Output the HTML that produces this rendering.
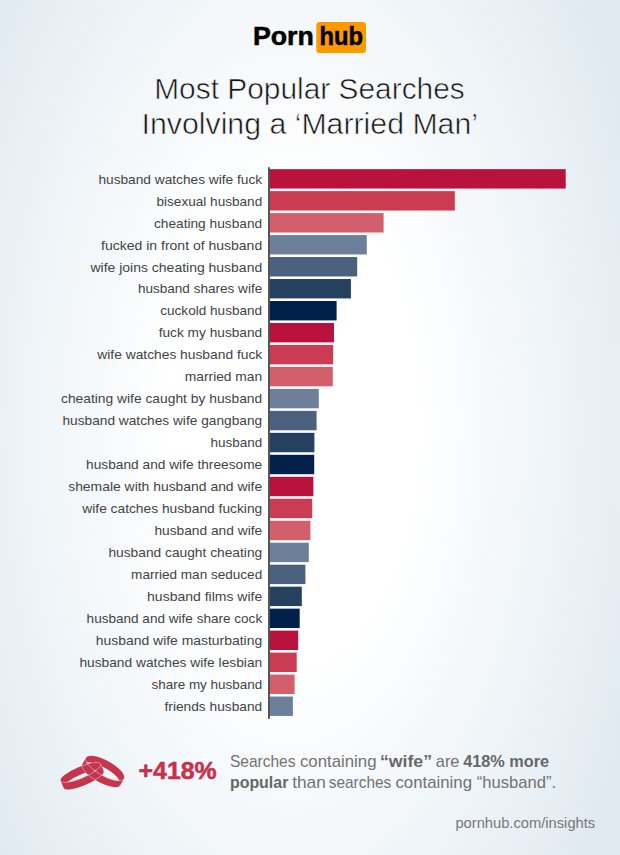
<!DOCTYPE html>
<html lang="en">
<head>
<meta charset="utf-8">
<title>Most Popular Searches</title>
<style>
html,body{margin:0;padding:0;}
body{width:620px;height:855px;overflow:hidden;font-family:"Liberation Sans",sans-serif;
background:radial-gradient(ellipse 315px 600px at 292px 425px, #ffffff 0%, #ffffff 39%, #e8f0f5 100%, #e1eaf1 116%);}
svg{display:block;position:absolute;left:0;top:0;}
text{font-family:"Liberation Sans",sans-serif;}
.lbl{font-size:13.5px;fill:#434343;}
.ttl{font-size:29.6px;fill:#141414;stroke:#f6f8fa;stroke-width:0.6px;}
.note{font-size:17px;fill:#727272;}
.note.b{fill:#686868;}
.b{font-weight:bold;}
</style>
</head>
<body>
<svg width="620" height="855" viewBox="0 0 620 855">
<g id="logo">
<text x="252.9" y="45.2" font-size="25" font-weight="bold" fill="#000000" stroke="#000000" stroke-width="0.5" textLength="60.9" lengthAdjust="spacingAndGlyphs">Porn</text>
<rect x="316.3" y="21.9" width="49.7" height="31.1" rx="3.2" ry="3.2" fill="#ff9900"/>
<text x="319.5" y="45.2" font-size="25" font-weight="bold" fill="#000000" stroke="#000000" stroke-width="0.5" textLength="43.4" lengthAdjust="spacingAndGlyphs">hub</text>
</g>
<g id="title">
<text class="ttl" x="154.2" y="99.0" textLength="310.6" lengthAdjust="spacingAndGlyphs">Most Popular Searches</text>
<text class="ttl" x="141.6" y="133.9" textLength="336.4" lengthAdjust="spacingAndGlyphs">Involving a ‘Married Man’</text>
</g>
<g id="chart">
<rect x="270.0" y="169.15" width="295.7" height="19.4" fill="#b8123d"/>
<text class="lbl" x="98.4" y="184" textLength="163.8" lengthAdjust="spacingAndGlyphs">husband watches wife fuck</text>
<rect x="270.0" y="191.12" width="184.8" height="19.4" fill="#cb3b52"/>
<text class="lbl" x="156.5" y="206" textLength="105.7" lengthAdjust="spacingAndGlyphs">bisexual husband</text>
<rect x="270.0" y="213.10" width="113.6" height="19.4" fill="#d35f6d"/>
<text class="lbl" x="153.9" y="228" textLength="108.3" lengthAdjust="spacingAndGlyphs">cheating husband</text>
<rect x="270.0" y="235.08" width="96.8" height="19.4" fill="#6e8099"/>
<text class="lbl" x="101.1" y="250" textLength="161.1" lengthAdjust="spacingAndGlyphs">fucked in front of husband</text>
<rect x="270.0" y="257.05" width="87.2" height="19.4" fill="#4c617d"/>
<text class="lbl" x="90.5" y="272" textLength="171.7" lengthAdjust="spacingAndGlyphs">wife joins cheating husband</text>
<rect x="270.0" y="279.02" width="80.9" height="19.4" fill="#25415f"/>
<text class="lbl" x="137.9" y="293" textLength="124.3" lengthAdjust="spacingAndGlyphs">husband shares wife</text>
<rect x="270.0" y="301.00" width="66.6" height="19.4" fill="#01204a"/>
<text class="lbl" x="160.2" y="315" textLength="102.0" lengthAdjust="spacingAndGlyphs">cuckold husband</text>
<rect x="270.0" y="322.98" width="64.0" height="19.4" fill="#b8123d"/>
<text class="lbl" x="158.7" y="337" textLength="103.5" lengthAdjust="spacingAndGlyphs">fuck my husband</text>
<rect x="270.0" y="344.95" width="63.2" height="19.4" fill="#cb3b52"/>
<text class="lbl" x="97.3" y="359" textLength="164.9" lengthAdjust="spacingAndGlyphs">wife watches husband fuck</text>
<rect x="270.0" y="366.92" width="62.8" height="19.4" fill="#d35f6d"/>
<text class="lbl" x="184.8" y="381" textLength="77.4" lengthAdjust="spacingAndGlyphs">married man</text>
<rect x="270.0" y="388.90" width="48.8" height="19.4" fill="#6e8099"/>
<text class="lbl" x="61.0" y="403" textLength="201.2" lengthAdjust="spacingAndGlyphs">cheating wife caught by husband</text>
<rect x="270.0" y="410.88" width="46.6" height="19.4" fill="#4c617d"/>
<text class="lbl" x="62.4" y="425" textLength="199.8" lengthAdjust="spacingAndGlyphs">husband watches wife gangbang</text>
<rect x="270.0" y="432.85" width="44.4" height="19.4" fill="#25415f"/>
<text class="lbl" x="210.5" y="447" textLength="51.7" lengthAdjust="spacingAndGlyphs">husband</text>
<rect x="270.0" y="454.82" width="44.2" height="19.4" fill="#01204a"/>
<text class="lbl" x="86.1" y="469" textLength="176.1" lengthAdjust="spacingAndGlyphs">husband and wife threesome</text>
<rect x="270.0" y="476.80" width="43.4" height="19.4" fill="#b8123d"/>
<text class="lbl" x="68.2" y="491" textLength="194.0" lengthAdjust="spacingAndGlyphs">shemale with husband and wife</text>
<rect x="270.0" y="498.77" width="42.2" height="19.4" fill="#cb3b52"/>
<text class="lbl" x="82.3" y="513" textLength="179.9" lengthAdjust="spacingAndGlyphs">wife catches husband fucking</text>
<rect x="270.0" y="520.75" width="40.4" height="19.4" fill="#d35f6d"/>
<text class="lbl" x="154.4" y="535" textLength="107.8" lengthAdjust="spacingAndGlyphs">husband and wife</text>
<rect x="270.0" y="542.73" width="38.8" height="19.4" fill="#6e8099"/>
<text class="lbl" x="108.4" y="557" textLength="153.8" lengthAdjust="spacingAndGlyphs">husband caught cheating</text>
<rect x="270.0" y="564.70" width="35.4" height="19.4" fill="#4c617d"/>
<text class="lbl" x="131.1" y="579" textLength="131.1" lengthAdjust="spacingAndGlyphs">married man seduced</text>
<rect x="270.0" y="586.68" width="31.8" height="19.4" fill="#25415f"/>
<text class="lbl" x="147.1" y="601" textLength="115.1" lengthAdjust="spacingAndGlyphs">husband films wife</text>
<rect x="270.0" y="608.65" width="29.7" height="19.4" fill="#01204a"/>
<text class="lbl" x="86.6" y="623" textLength="175.6" lengthAdjust="spacingAndGlyphs">husband and wife share cock</text>
<rect x="270.0" y="630.62" width="28.2" height="19.4" fill="#b8123d"/>
<text class="lbl" x="95.8" y="645" textLength="166.4" lengthAdjust="spacingAndGlyphs">husband wife masturbating</text>
<rect x="270.0" y="652.60" width="26.7" height="19.4" fill="#cb3b52"/>
<text class="lbl" x="79.4" y="667" textLength="182.8" lengthAdjust="spacingAndGlyphs">husband watches wife lesbian</text>
<rect x="270.0" y="674.57" width="24.6" height="19.4" fill="#d35f6d"/>
<text class="lbl" x="151.5" y="689" textLength="110.7" lengthAdjust="spacingAndGlyphs">share my husband</text>
<rect x="270.0" y="696.55" width="22.9" height="19.4" fill="#6e8099"/>
<text class="lbl" x="164.5" y="711" textLength="97.7" lengthAdjust="spacingAndGlyphs">friends husband</text>
<rect x="268" y="167.3" width="2" height="551.5" fill="#555555"/>
</g>
<g id="rings">
<defs>
<clipPath id="clipR"><path transform="translate(103.10,771.40) rotate(29.0)" clip-rule="evenodd" d="M-21.70,-3.70 A21.70,7.70 0 0 1 21.70,-3.70 L21.70,3.70 A21.70,7.70 0 0 1 -21.70,3.70 Z M-19.03,0 A21.70,7.70 0 0 1 19.03,0 A21.70,7.70 0 0 1 -19.03,0 Z"/></clipPath>
<clipPath id="clipL"><path transform="translate(82.15,776.00) rotate(-23.0)" clip-rule="evenodd" d="M-21.70,-3.85 A21.70,5.70 0 0 1 21.70,-3.85 L21.70,3.85 A21.70,5.70 0 0 1 -21.70,3.85 Z M-16.00,0 A21.70,5.70 0 0 1 16.00,0 A21.70,5.70 0 0 1 -16.00,0 Z"/></clipPath>
</defs>
<path transform="translate(103.10,771.40) rotate(29.0)" fill-rule="evenodd" fill="#c3364d" d="M-21.70,-3.70 A21.70,7.70 0 0 1 21.70,-3.70 L21.70,3.70 A21.70,7.70 0 0 1 -21.70,3.70 Z M-19.03,0 A21.70,7.70 0 0 1 19.03,0 A21.70,7.70 0 0 1 -19.03,0 Z"/>
<path transform="translate(82.15,776.00) rotate(-23.0)" fill-rule="evenodd" fill="#c3364d" d="M-21.70,-3.85 A21.70,5.70 0 0 1 21.70,-3.85 L21.70,3.85 A21.70,5.70 0 0 1 -21.70,3.85 Z M-16.00,0 A21.70,5.70 0 0 1 16.00,0 A21.70,5.70 0 0 1 -16.00,0 Z"/>
<path transform="translate(103.10,771.40) rotate(29.0)" d="M-21.70,-3.70 A21.70,7.70 0 0 0 21.70,-3.70" fill="none" stroke="#f0bcc5" stroke-width="0.55"/>
<g clip-path="url(#clipL)"><path transform="translate(103.10,771.40) rotate(29.0)" d="M-21.70,-3.70 A21.70,7.70 0 0 1 21.70,-3.70 L21.70,3.70 A21.70,7.70 0 0 1 -21.70,3.70 Z" fill="none" stroke="#f0bcc5" stroke-width="0.55"/></g>
<path transform="translate(82.15,776.00) rotate(-23.0)" d="M-21.70,-3.85 A21.70,5.70 0 0 0 21.70,-3.85" fill="none" stroke="#f0bcc5" stroke-width="0.55"/>
<g clip-path="url(#clipR)"><path transform="translate(82.15,776.00) rotate(-23.0)" d="M-21.70,-3.85 A21.70,5.70 0 0 1 21.70,-3.85 L21.70,3.85 A21.70,5.70 0 0 1 -21.70,3.85 Z" fill="none" stroke="#f0bcc5" stroke-width="0.55"/></g>
</g>
<g id="stat">
<text x="138.6" y="778.9" font-size="23.6" font-weight="bold" fill="#c8314c" stroke="#c8314c" stroke-width="0.5" textLength="78" lengthAdjust="spacingAndGlyphs">+418%</text>
<text class="note" x="229.9" y="766.6" textLength="65.6" lengthAdjust="spacingAndGlyphs">Searches</text>
<text class="note" x="299.9" y="766.6" textLength="76.6" lengthAdjust="spacingAndGlyphs">containing</text>
<text class="note b" x="379.9" y="766.6" textLength="52.1" lengthAdjust="spacingAndGlyphs">“wife”</text>
<text class="note" x="435.8" y="766.6" textLength="23.6" lengthAdjust="spacingAndGlyphs">are</text>
<text class="note b" x="463.2" y="766.6" textLength="85.9" lengthAdjust="spacingAndGlyphs">418% more</text>
<text class="note b" x="229.9" y="787.9" textLength="58.5" lengthAdjust="spacingAndGlyphs">popular</text>
<text class="note" x="292.2" y="787.9" textLength="33.7" lengthAdjust="spacingAndGlyphs">than</text>
<text class="note" x="328.7" y="787.9" textLength="62.6" lengthAdjust="spacingAndGlyphs">searches</text>
<text class="note" x="395.4" y="787.9" textLength="76.6" lengthAdjust="spacingAndGlyphs">containing</text>
<text class="note" x="476.7" y="787.9" textLength="79.5" lengthAdjust="spacingAndGlyphs">“husband”.</text>
</g>
<text x="455.4" y="827.6" font-size="14.5" fill="#787878" textLength="139.8" lengthAdjust="spacingAndGlyphs">pornhub.com/insights</text>
</svg>
</body>
</html>
